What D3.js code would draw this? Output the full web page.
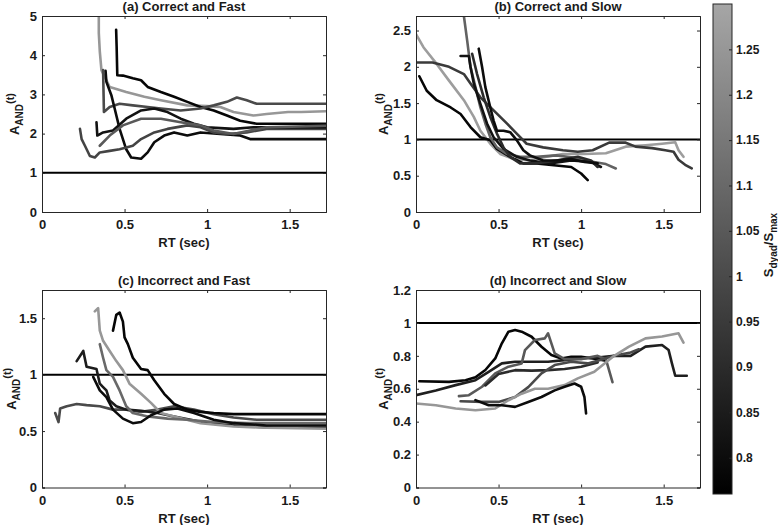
<!DOCTYPE html>
<html><head><meta charset="utf-8">
<script src="https://cdn.jsdelivr.net/npm/d3@7"></script>
<style>
body{margin:0;background:#fff}
svg{display:block}
text{font-family:"Liberation Sans",Arial,Helvetica,sans-serif;font-weight:bold;fill:#1a1a1a}
</style>
</head><body>
<svg id="chart" width="778" height="525"></svg>
<script>
// ---------------- DATA ----------------
const panelTitles = ["(a) Correct and Fast", "(b) Correct and Slow", "(c) Incorrect and Fast", "(d) Incorrect and Slow"];
const xTicks = [0, 0.5, 1, 1.5];
const yTicksA = [0, 1, 2, 3, 4, 5];
const yTicksB = [0, 0.5, 1, 1.5, 2, 2.5];
const yTicksC = [0, 0.5, 1, 1.5];
const yTicksD = [0, 0.2, 0.4, 0.6, 0.8, 1, 1.2];
const cbTicks = [0.8, 0.85, 0.9, 0.95, 1, 1.05, 1.1, 1.15, 1.2, 1.25];
const cbDomain = [0.76, 1.30];
const refLevel = 1;

// panel (a) curves: [RT, A_AND]
const aLevels = [1.25, 0.78, 1.0, 0.8, 0.98, 0.82, 1.05];
const a1 = [[0.344,5.0],[0.344,4.57],[0.35,4.1],[0.36,3.62],[0.41,3.19],[0.51,3.06],[0.62,2.94],[0.72,2.85],[0.88,2.72],[1.0,2.7],[1.08,2.68],[1.16,2.55],[1.28,2.46],[1.36,2.5],[1.49,2.55],[1.57,2.55],[1.72,2.57]];
const a2 = [[0.449,4.65],[0.452,4.22],[0.456,3.49],[0.49,3.48],[0.55,3.41],[0.6,3.36],[0.64,3.19],[0.72,3.06],[0.8,2.94],[0.88,2.81],[0.96,2.68],[1.04,2.59],[1.12,2.46],[1.2,2.33],[1.3,2.25],[1.72,2.25]];
const a3 = [[0.37,3.62],[0.375,2.55],[0.41,2.68],[0.47,2.76],[0.55,2.72],[0.64,2.68],[0.72,2.64],[0.84,2.59],[0.96,2.64],[1.04,2.72],[1.12,2.81],[1.18,2.92],[1.24,2.85],[1.3,2.76],[1.72,2.76]];
const a4 = [[0.385,3.6],[0.39,3.32],[0.42,2.98],[0.44,2.64],[0.47,2.12],[0.51,1.6],[0.54,1.39],[0.6,1.36],[0.64,1.52],[0.68,1.78],[0.74,1.95],[0.8,2.03],[0.88,1.95],[0.96,2.03],[1.08,1.99],[1.2,1.95],[1.26,1.86],[1.72,1.86]];
const a5 = [[0.23,2.12],[0.24,1.86],[0.26,1.69],[0.29,1.43],[0.32,1.39],[0.35,1.52],[0.41,1.56],[0.47,1.6],[0.55,1.69],[0.6,1.86],[0.68,2.03],[0.76,2.12],[0.88,2.21],[0.96,2.16],[1.04,2.03],[1.12,1.99],[1.24,2.03],[1.36,2.12],[1.72,2.12]];
const a6 = [[0.33,2.29],[0.335,1.95],[0.37,2.03],[0.43,2.08],[0.51,2.38],[0.6,2.59],[0.68,2.64],[0.76,2.55],[0.84,2.38],[0.92,2.25],[1.0,2.16],[1.16,2.12],[1.28,2.16],[1.72,2.16]];
const a7 = [[0.35,1.69],[0.41,1.95],[0.49,2.21],[0.6,2.38],[0.72,2.38],[0.84,2.29],[0.96,2.21],[1.04,2.08],[1.16,1.99],[1.26,2.08],[1.36,2.16],[1.72,2.2]];

// panel (b)
const bLevels = [1.27, 0.95, 0.78, 1.08, 0.82, 0.9, 0.8];
const b1 = [[0,2.45],[0.045,2.27],[0.125,2.04],[0.2,1.81],[0.29,1.54],[0.35,1.31],[0.39,1.12],[0.45,0.94],[0.51,0.8],[0.59,0.73],[0.69,0.71],[0.79,0.76],[0.89,0.8],[1.02,0.8],[1.15,0.81],[1.27,0.9],[1.39,0.92],[1.49,0.94],[1.57,0.96],[1.59,0.85],[1.62,0.76]];
const b2 = [[0,2.06],[0.1,2.06],[0.2,2.0],[0.29,1.9],[0.33,1.77],[0.39,1.58],[0.47,1.4],[0.55,1.22],[0.61,1.08],[0.67,0.94],[0.77,0.89],[0.89,0.85],[0.98,0.83],[1.07,0.85],[1.17,0.955],[1.27,0.955],[1.33,0.9],[1.43,0.88],[1.51,0.85],[1.56,0.83],[1.59,0.72],[1.63,0.65],[1.67,0.6]];
const b3 = [[0.02,1.87],[0.065,1.67],[0.125,1.54],[0.21,1.44],[0.27,1.35],[0.33,1.17],[0.39,1.03],[0.45,0.99],[0.49,0.87],[0.57,0.76],[0.65,0.67],[0.73,0.67],[0.85,0.64],[0.94,0.62],[1.0,0.53],[1.04,0.44]];
const b4 = [[0.29,2.7],[0.31,2.36],[0.33,2.0],[0.36,1.72],[0.39,1.44],[0.42,1.22],[0.45,1.03],[0.49,0.89],[0.55,0.8],[0.63,0.76],[0.73,0.76],[0.85,0.78],[0.95,0.75],[1.05,0.7],[1.15,0.66],[1.21,0.6]];
const b5 = [[0.27,2.15],[0.32,2.15],[0.33,2.0],[0.35,1.77],[0.39,1.49],[0.43,1.22],[0.47,1.03],[0.53,0.87],[0.61,0.76],[0.69,0.71],[0.81,0.67],[0.94,0.71],[1.06,0.69],[1.12,0.62]];
const b6 = [[0.34,2.18],[0.37,1.9],[0.41,1.58],[0.45,1.31],[0.49,1.08],[0.53,0.89],[0.57,0.76],[0.63,0.67],[0.73,0.67],[0.85,0.71],[0.98,0.76],[1.06,0.71],[1.1,0.62]];
const b7 = [[0.38,2.25],[0.4,2.0],[0.42,1.72],[0.45,1.44],[0.47,1.26],[0.49,1.12],[0.53,1.12],[0.57,1.1],[0.61,0.99],[0.65,0.85],[0.69,0.78],[0.77,0.71],[0.85,0.71],[0.94,0.73],[1.02,0.69],[1.1,0.67]];

// panel (c)
const cLevels = [1.0, 0.85, 1.25, 0.78, 1.1, 0.8];
const c1 = [[0.08,0.66],[0.1,0.58],[0.11,0.7],[0.15,0.72],[0.21,0.74],[0.27,0.73],[0.35,0.72],[0.43,0.69],[0.51,0.69],[0.6,0.67],[0.7,0.69],[0.8,0.72],[0.92,0.69],[1.04,0.65],[1.16,0.62],[1.3,0.6],[1.72,0.6]];
const c2 = [[0.21,1.12],[0.25,1.21],[0.27,1.07],[0.33,1.05],[0.35,0.92],[0.37,0.89],[0.39,0.86],[0.41,0.77],[0.45,0.72],[0.51,0.69],[0.6,0.68],[0.7,0.66],[0.8,0.63],[0.9,0.6],[1.0,0.57],[1.2,0.545],[1.4,0.53],[1.72,0.53]];
const c3 = [[0.32,1.56],[0.34,1.59],[0.35,1.39],[0.37,1.3],[0.41,1.21],[0.45,1.12],[0.49,1.04],[0.53,0.92],[0.6,0.83],[0.66,0.75],[0.72,0.66],[0.8,0.63],[0.96,0.57],[1.16,0.54],[1.36,0.53],[1.72,0.52]];
const c4 = [[0.43,1.39],[0.45,1.53],[0.47,1.55],[0.49,1.47],[0.5,1.33],[0.52,1.27],[0.55,1.15],[0.6,1.05],[0.64,1.04],[0.68,0.95],[0.74,0.83],[0.8,0.74],[0.88,0.69],[0.96,0.67],[1.04,0.66],[1.16,0.65],[1.72,0.65]];
const c5 = [[0.35,1.27],[0.37,1.15],[0.39,1.04],[0.43,0.98],[0.47,0.86],[0.51,0.72],[0.55,0.66],[0.64,0.63],[0.76,0.61],[0.88,0.6],[1.04,0.58],[1.24,0.57],[1.72,0.57]];
const c6 = [[0.31,0.98],[0.35,0.86],[0.39,0.8],[0.43,0.69],[0.49,0.61],[0.55,0.57],[0.6,0.58],[0.66,0.64],[0.74,0.69],[0.82,0.7],[0.92,0.66],[1.04,0.6],[1.16,0.57],[1.36,0.55],[1.72,0.55]];

// panel (d)
const dLevels = [0.78, 0.86, 1.05, 0.9, 1.0, 1.25, 0.8];
const dd1 = [[0.02,0.646],[0.2,0.642],[0.3,0.652],[0.36,0.67],[0.42,0.714],[0.48,0.784],[0.52,0.876],[0.56,0.947],[0.6,0.957],[0.64,0.947],[0.7,0.916],[0.76,0.855],[0.82,0.805],[0.88,0.784],[0.94,0.794],[1.0,0.794],[1.1,0.78],[1.15,0.77]];
const dd2 = [[0,0.561],[0.12,0.59],[0.24,0.622],[0.36,0.652],[0.44,0.703],[0.52,0.754],[0.6,0.764],[0.7,0.764],[0.8,0.764],[0.9,0.774],[1.0,0.784],[1.1,0.79],[1.2,0.8],[1.3,0.8],[1.39,0.856],[1.49,0.866],[1.53,0.835],[1.55,0.754],[1.57,0.679],[1.64,0.679]];
const dd3 = [[0.26,0.555],[0.32,0.561],[0.4,0.612],[0.48,0.693],[0.56,0.734],[0.64,0.754],[0.66,0.835],[0.72,0.896],[0.78,0.906],[0.8,0.937],[0.82,0.876],[0.84,0.815],[0.9,0.78],[1.0,0.78],[1.1,0.8],[1.15,0.78],[1.19,0.64]];
const dd4 = [[0.42,0.62],[0.5,0.69],[0.6,0.713],[0.7,0.71],[0.8,0.713],[0.9,0.72],[1.0,0.734],[1.1,0.76]];
const dd5 = [[0.27,0.524],[0.4,0.52],[0.5,0.52],[0.6,0.55],[0.68,0.61],[0.76,0.693],[0.84,0.744],[0.94,0.764],[1.04,0.754],[1.1,0.77],[1.2,0.8],[1.3,0.82],[1.35,0.84]];
const dd6 = [[0,0.51],[0.12,0.5],[0.24,0.48],[0.36,0.469],[0.48,0.48],[0.56,0.53],[0.64,0.57],[0.72,0.6],[0.8,0.6],[0.9,0.622],[0.98,0.663],[1.08,0.703],[1.2,0.8],[1.29,0.856],[1.39,0.906],[1.49,0.917],[1.59,0.937],[1.62,0.88]];
const dd7 = [[0.36,0.531],[0.44,0.5],[0.52,0.5],[0.6,0.49],[0.68,0.52],[0.76,0.55],[0.84,0.59],[0.9,0.612],[0.96,0.632],[1.0,0.612],[1.02,0.55],[1.03,0.45]];

// ---------------- DRAWING ----------------
const svg = d3.select("#chart");
const gray = d3.scaleLinear().domain(cbDomain).range(["#000000", "#a6a6a6"]).clamp(true);
const axisColor = "#262626";

const panels = [
  {title: panelTitles[0], x0: 42, x1: 326, y0: 16, y1: 212, ydom: [0, 5], yticks: yTicksA, series: [a1,a2,a3,a4,a5,a6,a7], levels: aLevels, labOff: 23},
  {title: panelTitles[1], x0: 416, x1: 700, y0: 16, y1: 212, ydom: [0, 2.7], yticks: yTicksB, series: [b1,b2,b3,b4,b5,b6,b7], levels: bLevels, labOff: 28},
  {title: panelTitles[2], x0: 42, x1: 326, y0: 290, y1: 487.5, ydom: [0, 1.75], yticks: yTicksC, series: [c1,c2,c3,c4,c5,c6], levels: cLevels, labOff: 26.5},
  {title: panelTitles[3], x0: 416, x1: 700, y0: 290, y1: 487.5, ydom: [0, 1.2], yticks: yTicksD, series: [dd1,dd2,dd3,dd4,dd5,dd6,dd7], levels: dLevels, labOff: 28}
];

const fmt = v => String(+v.toFixed(2));

panels.forEach((p, i) => {
  const x = d3.scaleLinear().domain([0, 1.72]).range([p.x0, p.x1]);
  const y = d3.scaleLinear().domain(p.ydom).range([p.y1, p.y0]);
  const g = svg.append("g");
  const clipId = "clip" + i;
  svg.append("defs").append("clipPath").attr("id", clipId)
    .append("rect").attr("x", p.x0).attr("y", p.y0).attr("width", p.x1 - p.x0).attr("height", p.y1 - p.y0);

  const plot = g.append("g").attr("clip-path", `url(#${clipId})`);
  plot.append("line").attr("x1", x(0)).attr("x2", x(1.72)).attr("y1", y(refLevel)).attr("y2", y(refLevel))
    .attr("stroke", "#000").attr("stroke-width", 2);
  const line = d3.line().x(d => x(d[0])).y(d => y(d[1]));
  p.series.forEach((s, k) => {
    plot.append("path").attr("d", line(s)).attr("fill", "none")
      .attr("stroke", gray(p.levels[k])).attr("stroke-width", 2.6)
      .attr("stroke-linejoin", "round").attr("stroke-linecap", "round");
  });

  const tl = 3;
  const axB = d3.axisBottom(x).tickValues(xTicks).tickSize(-tl).tickFormat(fmt).tickPadding(8);
  const axT = d3.axisTop(x).tickValues(xTicks).tickSize(-tl).tickFormat("");
  const axL = d3.axisLeft(y).tickValues(p.yticks).tickSize(-tl).tickFormat(fmt).tickPadding(5);
  const axR = d3.axisRight(y).tickValues(p.yticks).tickSize(-tl).tickFormat("");
  [[axB, `translate(0,${p.y1})`], [axT, `translate(0,${p.y0})`], [axL, `translate(${p.x0},0)`], [axR, `translate(${p.x1},0)`]]
    .forEach(([ax, tr]) => {
      const a = g.append("g").attr("transform", tr).call(ax);
      a.select(".domain").attr("stroke", axisColor).attr("stroke-width", 1);
      a.selectAll(".tick line").attr("stroke", axisColor);
      a.selectAll(".tick text").attr("font-size", 13).attr("font-family", null).attr("fill", "#1a1a1a");
    });

  g.append("text").attr("x", (p.x0 + p.x1) / 2).attr("y", p.y0 - 5.5)
    .attr("text-anchor", "middle").attr("font-size", 13).text(p.title);
  g.append("text").attr("x", (p.x0 + p.x1) / 2).attr("y", p.y1 + 35)
    .attr("text-anchor", "middle").attr("font-size", 13).text("RT (sec)");
  const yl = g.append("text").attr("transform", `translate(${p.x0 - p.labOff},${(p.y0 + p.y1) / 2}) rotate(-90)`)
    .attr("text-anchor", "middle").attr("font-size", 13);
  yl.append("tspan").text("A");
  yl.append("tspan").attr("font-size", 10).attr("dy", 4).text("AND");
  yl.append("tspan").attr("font-size", 11).attr("dy", -9).text("(t)");
});

// ---------------- COLORBAR ----------------
const cb = {x0: 713, x1: 732, y0: 4, y1: 494};
const cy = d3.scaleLinear().domain(cbDomain).range([cb.y1, cb.y0]);
const grad = svg.append("defs").append("linearGradient").attr("id", "cbgrad")
  .attr("x1", 0).attr("y1", 1).attr("x2", 0).attr("y2", 0);
grad.append("stop").attr("offset", "0%").attr("stop-color", gray(cbDomain[0]));
grad.append("stop").attr("offset", "100%").attr("stop-color", gray(cbDomain[1]));
svg.append("rect").attr("x", cb.x0).attr("y", cb.y0).attr("width", cb.x1 - cb.x0).attr("height", cb.y1 - cb.y0)
  .attr("fill", "url(#cbgrad)").attr("stroke", axisColor).attr("stroke-width", 1);
const cbAx = svg.append("g").attr("transform", `translate(${cb.x1},0)`)
  .call(d3.axisRight(cy).tickValues(cbTicks).tickSize(-3).tickPadding(4).tickFormat(fmt));
cbAx.select(".domain").remove();
cbAx.selectAll(".tick line").attr("stroke", axisColor);
cbAx.selectAll(".tick text").attr("font-size", 12).attr("font-family", null).attr("fill", "#1a1a1a");

const cl = svg.append("text").attr("transform", `translate(773,${(cb.y0 + cb.y1) / 2 - 4}) rotate(-90)`)
  .attr("text-anchor", "middle").attr("font-size", 13);
cl.append("tspan").text("S");
cl.append("tspan").attr("font-size", 10).attr("dy", 4).text("dyad");
cl.append("tspan").attr("dy", -4).text("/S");
cl.append("tspan").attr("font-size", 10).attr("dy", 4).text("max");
</script>
</body></html>
